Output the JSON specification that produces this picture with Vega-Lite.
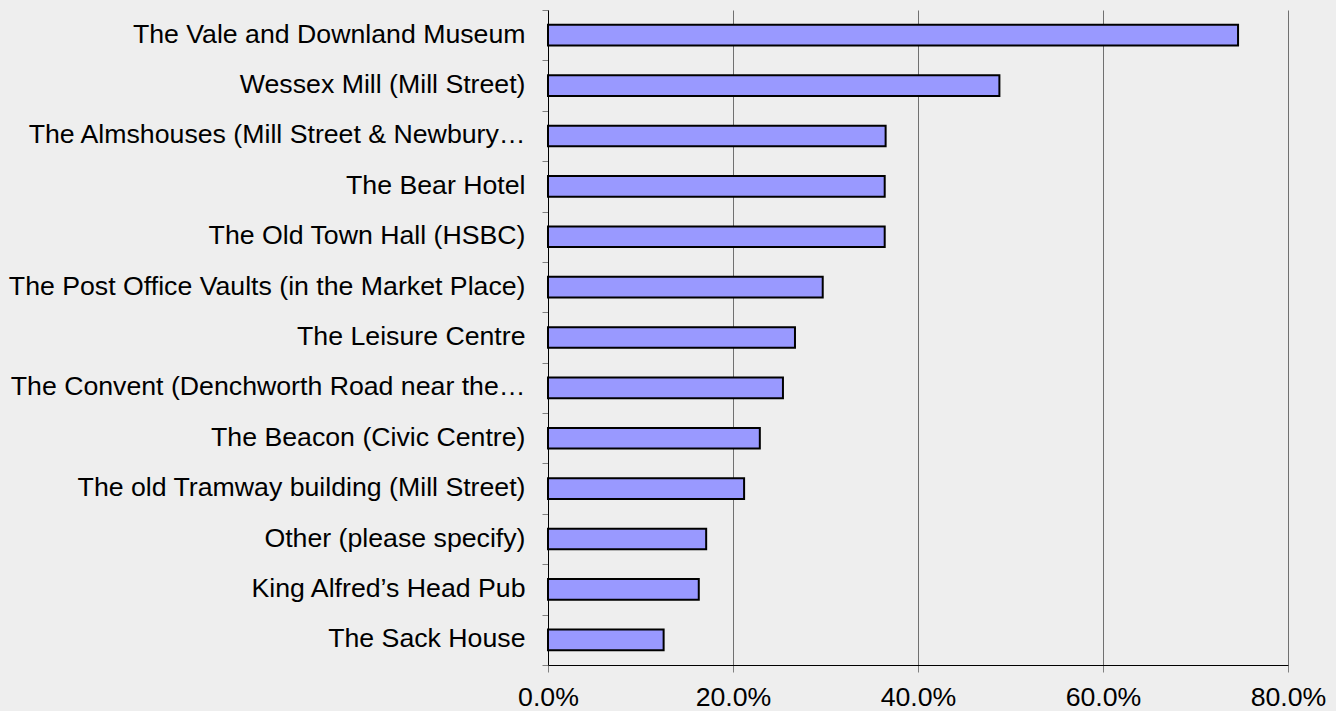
{
  "$schema": "https://vega.github.io/schema/vega-lite/v6.json",
  "width": 740,
  "height": 655,
  "autosize": {"type": "none"},
  "padding": {"left": 548, "top": 10, "right": 48, "bottom": 46},
  "background": "#eeeeee",
  "config": {
    "view": {"stroke": null},
    "font": "Liberation Sans"
  },
  "data": {
    "values": [
      {"place": "The Vale and Downland Museum", "pct": 0.746},
      {"place": "Wessex Mill (Mill Street)", "pct": 0.488},
      {"place": "The Almshouses (Mill Street & Newbury…", "pct": 0.365},
      {"place": "The Bear Hotel", "pct": 0.364},
      {"place": "The Old Town Hall (HSBC)", "pct": 0.364},
      {"place": "The Post Office Vaults (in the Market Place)", "pct": 0.297},
      {"place": "The Leisure Centre", "pct": 0.267},
      {"place": "The Convent (Denchworth Road near the…", "pct": 0.254},
      {"place": "The Beacon (Civic Centre)", "pct": 0.229},
      {"place": "The old Tramway building (Mill Street)", "pct": 0.212},
      {"place": "Other (please specify)", "pct": 0.171},
      {"place": "King Alfred’s Head Pub", "pct": 0.163},
      {"place": "The Sack House", "pct": 0.125}
    ]
  },
  "mark": {
    "type": "bar",
    "fill": "#9999ff",
    "stroke": "#000000",
    "strokeWidth": 2,
    "height": {"band": 0.41}
  },
  "encoding": {
    "y": {
      "field": "place",
      "type": "nominal",
      "sort": null,
      "scale": {"paddingInner": 0, "paddingOuter": 0},
      "axis": {
        "title": null,
        "tickBand": "extent",
        "tickSize": 6,
        "tickColor": "#808080",
        "domainColor": "#000000",
        "labelFontSize": 26.7,
        "labelColor": "#000000",
        "labelLimit": 0,
        "labelPadding": 17,
        "labelOffset": -1,
        "grid": false
      }
    },
    "x": {
      "field": "pct",
      "type": "quantitative",
      "scale": {"domain": [0, 0.8], "nice": false},
      "axis": {
        "title": null,
        "format": ".1%",
        "values": [0, 0.2, 0.4, 0.6, 0.8],
        "grid": true,
        "gridColor": "#707070",
        "gridWidth": 1,
        "tickColor": "#808080",
        "tickSize": 7,
        "domainColor": "#000000",
        "labelFontSize": 26.7,
        "labelColor": "#000000",
        "labelPadding": 12,
        "labelFlush": false
      }
    }
  }
}
